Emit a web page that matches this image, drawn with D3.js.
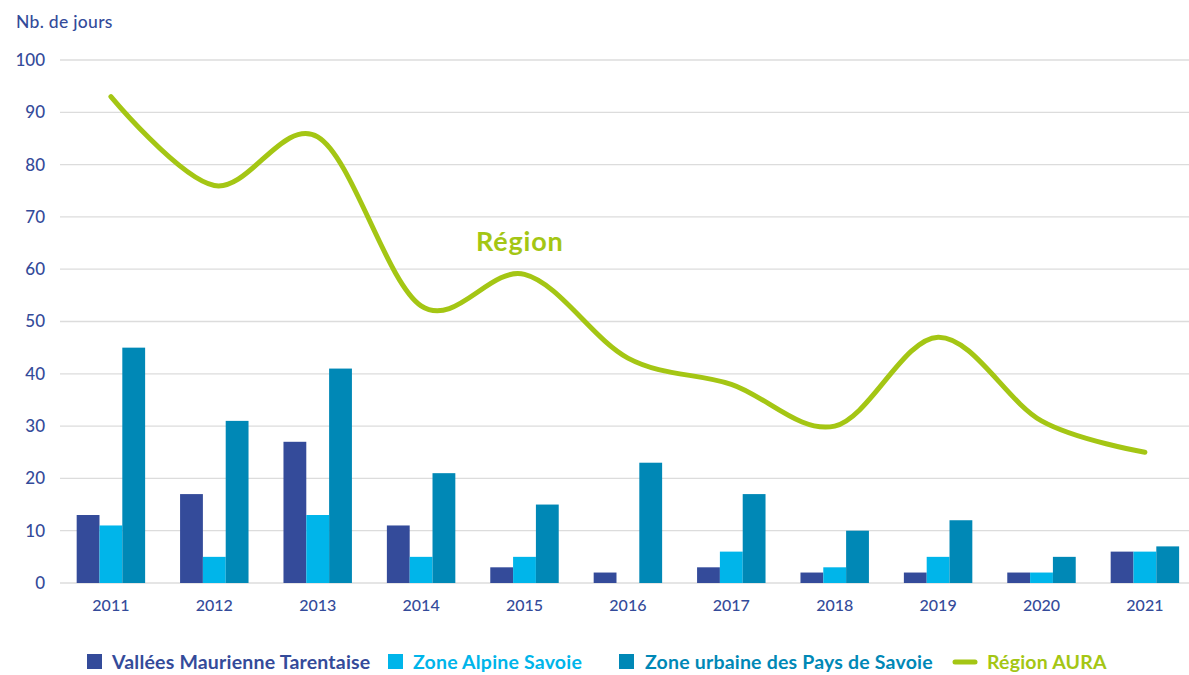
<!DOCTYPE html>
<html>
<head>
<meta charset="utf-8">
<script src="https://cdn.jsdelivr.net/npm/d3@7"></script>
<style>
  body { margin: 0; background: #fff; }
  svg { display: block; font-family: Lato, "Open Sans", sans-serif; }
</style>
</head>
<body>
<div class="container"></div>
<script>
const years = ['2011', '2012', '2013', '2014', '2015', '2016', '2017', '2018', '2019', '2020', '2021'];
const vallees = [13, 17, 27, 11, 3, 2, 3, 2, 2, 2, 6];
const alpine = [11, 5, 13, 5, 5, null, 6, 3, 5, 2, 6];
const urbaine = [45, 31, 41, 21, 15, 23, 17, 10, 12, 5, 7];
const region = [93, 76, 85.3, 53, 59, 43, 38, 30, 47, 31, 25];
const yTicks = [0, 10, 20, 30, 40, 50, 60, 70, 80, 90, 100];

const seriesNames = ['Vallées Maurienne Tarentaise', 'Zone Alpine Savoie', 'Zone urbaine des Pays de Savoie'];
const seriesValues = [vallees, alpine, urbaine];
const colors = ['#344b9a', '#00b5ea', '#0088b6'];
const green = '#a4c614';
const axisColor = '#344b9a';

const width = 1189;
const height = 675;

const svg = d3.select('.container')
  .append('svg')
  .attr('width', width)
  .attr('height', height);

const x = d3.scaleBand()
  .domain(years)
  .range([59.2, 1196.6])
  .paddingInner(0.338)
  .paddingOuter(0.169);

const x1 = d3.scaleBand()
  .domain(d3.range(seriesNames.length))
  .range([0, x.bandwidth()]);

const y = d3.scaleLinear()
  .domain([0, 100])
  .range([583, 60]);

// grid lines
svg.append('g')
  .selectAll('line')
  .data(yTicks)
  .join('line')
  .attr('x1', 60)
  .attr('x2', width)
  .attr('y1', d => y(d))
  .attr('y2', d => y(d))
  .attr('stroke', '#dcdcdc')
  .attr('stroke-width', 1.3);

// y axis labels
const yAxis = d3.axisLeft(y).tickValues(yTicks).tickSize(0).tickPadding(0);
svg.append('g')
  .attr('transform', 'translate(45, 0)')
  .call(yAxis)
  .call(g => g.select('.domain').remove())
  .selectAll('text')
  .attr('fill', axisColor)
  .attr('font-size', 17)
  .attr('font-weight', 500)
  .attr('font-family', 'Lato, sans-serif');

svg.append('text')
  .attr('x', 16)
  .attr('y', 28)
  .attr('fill', axisColor)
  .attr('font-size', 17.5)
  .attr('font-weight', 500)
  .attr('letter-spacing', 0.3)
  .text('Nb. de jours');

// x axis labels
const xAxis = d3.axisBottom(x).tickSize(0).tickPadding(0);
svg.append('g')
  .attr('transform', 'translate(0, 600)')
  .call(xAxis)
  .call(g => g.select('.domain').remove())
  .selectAll('text')
  .attr('fill', axisColor)
  .attr('font-size', 16)
  .attr('font-weight', 500)
  .attr('font-family', 'Lato, sans-serif');

// bars
const groups = svg.append('g')
  .selectAll('g')
  .data(years)
  .join('g')
  .attr('transform', d => `translate(${x(d)}, 0)`);

groups.selectAll('rect')
  .data((d, i) => seriesValues.map((s, k) => ({ k: k, v: s[i] })).filter(e => e.v != null))
  .join('rect')
  .attr('x', d => x1(d.k))
  .attr('width', x1.bandwidth())
  .attr('y', d => y(d.v))
  .attr('height', d => y(0) - y(d.v))
  .attr('fill', d => colors[d.k]);

// region line
const line = d3.line()
  .x((d, i) => x(years[i]) + x.bandwidth() / 2)
  .y(d => y(d))
  .curve(d3.curveCardinal.tension(0));

svg.append('path')
  .datum(region)
  .attr('d', line)
  .attr('fill', 'none')
  .attr('stroke', green)
  .attr('stroke-width', 5)
  .attr('stroke-linecap', 'round')
  .attr('stroke-linejoin', 'round');

svg.append('text')
  .attr('x', 476)
  .attr('y', 251)
  .attr('fill', green)
  .attr('font-size', 27)
  .attr('font-weight', 700)
  .attr('letter-spacing', 0.8)
  .text('Région');

// legend
const legend = svg.append('g');
const legendX = [87, 388, 619];
const legendTextX = [112, 413, 645];
seriesNames.forEach((name, i) => {
  legend.append('rect')
    .attr('x', legendX[i])
    .attr('y', 654)
    .attr('width', 15)
    .attr('height', 15)
    .attr('fill', colors[i]);
  legend.append('text')
    .attr('x', legendTextX[i])
    .attr('y', 669)
    .attr('fill', colors[i])
    .attr('font-size', 19.5)
    .attr('font-weight', 700)
    .attr('letter-spacing', 0.2)
    .text(name);
});
legend.append('line')
  .attr('x1', 955)
  .attr('x2', 975)
  .attr('y1', 662)
  .attr('y2', 662)
  .attr('stroke', green)
  .attr('stroke-width', 5)
  .attr('stroke-linecap', 'round');
legend.append('text')
  .attr('x', 987)
  .attr('y', 669)
  .attr('fill', green)
  .attr('font-size', 19.5)
  .attr('font-weight', 700)
  .attr('letter-spacing', 0.2)
  .text('Région AURA');
</script>
</body>
</html>
